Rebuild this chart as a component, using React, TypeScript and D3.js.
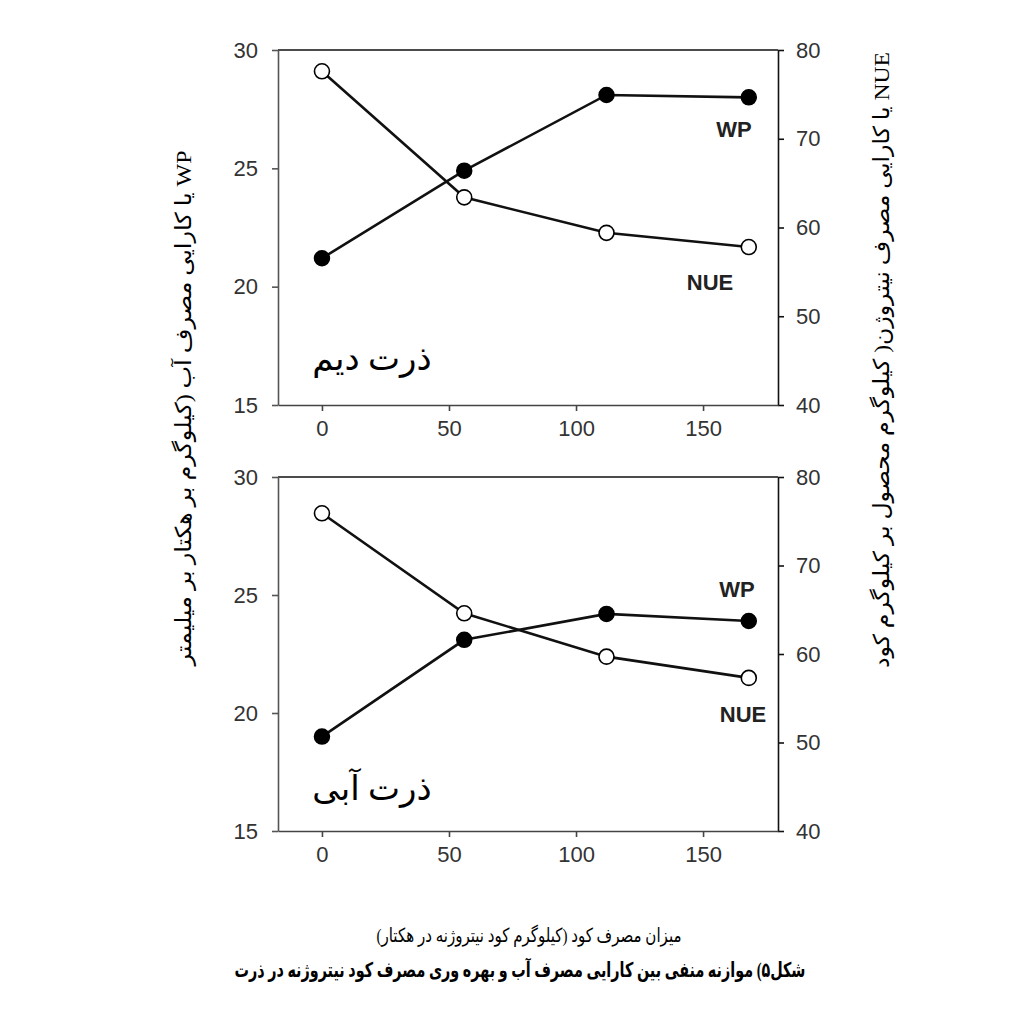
import React, { useRef, useEffect } from 'react'
import * as d3 from 'd3'

// nitrogen rates (kg N / ha)
const nRates = [0, 56, 112, 168]

// rainfed maize (top panel)
const wpRainfed = [21.2, 24.9, 28.1, 28.0]
const nueRainfed = [77.6, 63.4, 59.4, 57.8]

// irrigated maize (bottom panel)
const wpIrrigated = [19.0, 23.1, 24.2, 23.9]
const nueIrrigated = [75.9, 64.6, 59.7, 57.3]

const xTicks = [0, 50, 100, 150]
const leftTicks = [15, 20, 25, 30]
const rightTicks = [40, 50, 60, 70, 80]

const panelNames = ['ذرت دیم', 'ذرت آبی']
const leftTitle = 'WP یا کارایی مصرف آب (کیلوگرم بر هکتار بر میلیمتر'
const rightTitle = 'NUE یا کارایی مصرف نیتروژن( کیلوگرم محصول بر کیلوگرم کود'
const xTitle = 'میزان مصرف کود (کیلوگرم کود نیتروژنه در هکتار)'
const caption = 'شکل۵) موازنه منفی بین کارایی مصرف آب و بهره وری مصرف کود نیتروژنه در ذرت'

const sansFont = "'Liberation Sans', Arial, sans-serif"
const serifFont = "'Liberation Serif', 'DejaVu Sans', serif"

const App: React.FC = () => {
  const ref = useRef<SVGSVGElement | null>(null)

  useEffect(() => {
    if (!ref.current) return
    const svg = d3.select(ref.current)
    svg.selectAll('*').remove()

    const left = 278
    const right = 778
    const panels = [
      { top: 50, bottom: 405, wp: wpRainfed, nue: nueRainfed, name: panelNames[0],
        wpLabel: [734, 129], nueLabel: [710, 282], nameY: 370 },
      { top: 477, bottom: 831, wp: wpIrrigated, nue: nueIrrigated, name: panelNames[1],
        wpLabel: [737, 589], nueLabel: [743, 714], nameY: 800 },
    ]

    const x = d3.scaleLinear().domain([-17.3, 179.5]).range([left, right])

    panels.forEach(p => {
      const yL = d3.scaleLinear().domain([15, 30]).range([p.bottom, p.top])
      const yR = d3.scaleLinear().domain([40, 80]).range([p.bottom, p.top])
      const g = svg.append('g')

      // top border
      g.append('line')
        .attr('x1', left).attr('x2', right)
        .attr('y1', p.top).attr('y2', p.top)
        .attr('stroke', '#111').attr('stroke-width', 1.6)

      const styleAxis = (sel: d3.Selection<SVGGElement, unknown, null, undefined>, color: string) => {
        sel.selectAll('path, line').attr('stroke', color).attr('stroke-width', 1.6)
        sel.selectAll('text')
          .attr('fill', '#333')
          .style('font-family', sansFont)
          .style('font-size', '22px')
      }

      const axL = g.append('g').attr('transform', `translate(${left},0)`)
        .call(d3.axisLeft(yL).tickValues(leftTicks).tickSize(6).tickSizeOuter(0).tickPadding(14).tickFormat(d3.format('d')))
      styleAxis(axL, '#555')

      const axR = g.append('g').attr('transform', `translate(${right},0)`)
        .call(d3.axisRight(yR).tickValues(rightTicks).tickSize(6).tickSizeOuter(0).tickPadding(12).tickFormat(d3.format('d')))
      styleAxis(axR, '#111')

      const axB = g.append('g').attr('transform', `translate(0,${p.bottom})`)
        .call(d3.axisBottom(x).tickValues(xTicks).tickSize(6).tickSizeOuter(0).tickPadding(9).tickFormat(d3.format('d')))
      styleAxis(axB, '#444')

      const wpLine = d3.line<number>().x((_, i) => x(nRates[i])).y(d => yL(d))
      const nueLine = d3.line<number>().x((_, i) => x(nRates[i])).y(d => yR(d))

      g.append('path').attr('d', nueLine(p.nue))
        .attr('fill', 'none').attr('stroke', '#111').attr('stroke-width', 2.6)
      g.append('path').attr('d', wpLine(p.wp))
        .attr('fill', 'none').attr('stroke', '#111').attr('stroke-width', 2.6)

      g.selectAll('.wp').data(p.wp).enter().append('circle')
        .attr('cx', (_, i) => x(nRates[i])).attr('cy', d => yL(d))
        .attr('r', 7.5).attr('fill', '#000').attr('stroke', '#000').attr('stroke-width', 1.5)
      g.selectAll('.nue').data(p.nue).enter().append('circle')
        .attr('cx', (_, i) => x(nRates[i])).attr('cy', d => yR(d))
        .attr('r', 7.5).attr('fill', '#fff').attr('stroke', '#000').attr('stroke-width', 1.6)

      g.append('text').text('WP')
        .attr('x', p.wpLabel[0]).attr('y', p.wpLabel[1])
        .attr('text-anchor', 'middle').attr('dominant-baseline', 'central')
        .style('font-family', sansFont).style('font-size', '22px').style('font-weight', 'bold')
        .attr('fill', '#222')
      g.append('text').text('NUE')
        .attr('x', p.nueLabel[0]).attr('y', p.nueLabel[1])
        .attr('text-anchor', 'middle').attr('dominant-baseline', 'central')
        .style('font-family', sansFont).style('font-size', '22px').style('font-weight', 'bold')
        .attr('fill', '#222')

      g.append('text').text(p.name)
        .attr('x', 372).attr('y', p.nameY)
        .attr('text-anchor', 'middle').attr('direction', 'rtl')
        .style('font-family', serifFont).style('font-size', '34px')
        .attr('fill', '#000')
    })

    // axis titles
    const title = (txt: string, tf: string, size: number, len: number, bold = false) =>
      svg.append('text').text(txt)
        .attr('transform', tf)
        .attr('text-anchor', 'middle').attr('direction', 'rtl').attr('dominant-baseline', 'central')
        .attr('textLength', len).attr('lengthAdjust', 'spacingAndGlyphs')
        .style('font-family', serifFont).style('font-size', `${size}px`)
        .style('font-weight', bold ? 'bold' : 'normal')

    title(leftTitle, 'translate(183,408) rotate(-90)', 22, 515)
    title(rightTitle, 'translate(881,360) rotate(-90)', 22, 616)
    title(xTitle, 'translate(529,935)', 19.5, 305)
    title(caption, 'translate(520,970)', 20.5, 571, true)
  }, [])

  return (
    <svg
      ref={ref}
      width={1021}
      height={1012}
      style={{ position: 'absolute', left: 0, top: 0, background: '#fff' }}
    />
  )
}

export default App
